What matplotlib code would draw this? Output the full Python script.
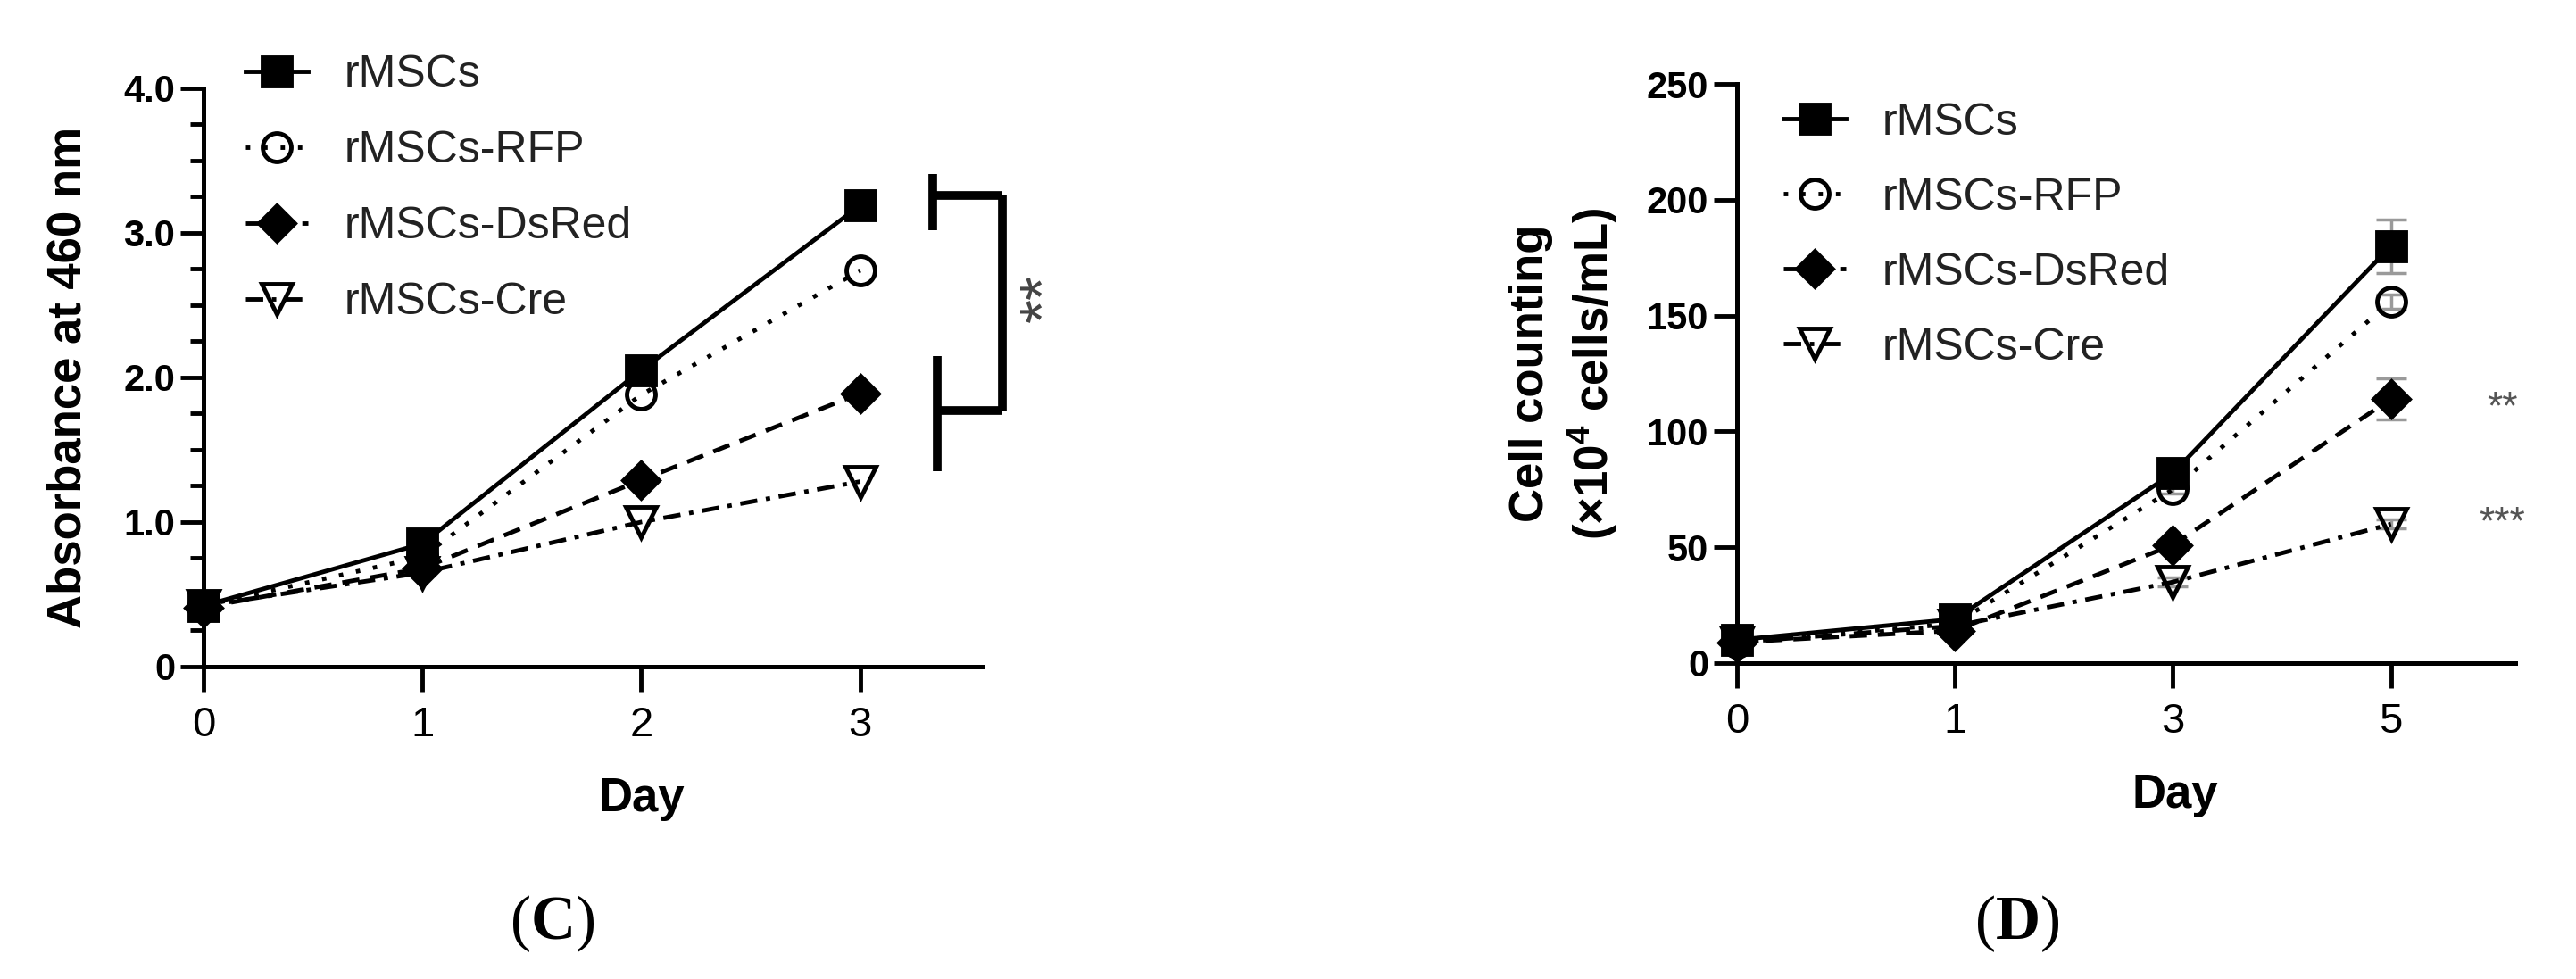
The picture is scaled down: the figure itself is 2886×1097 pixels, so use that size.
import numpy as np
import matplotlib
matplotlib.use("Agg")
import matplotlib.pyplot as plt
from matplotlib.ticker import MultipleLocator, FuncFormatter

plt.rcParams['font.family'] = ['Liberation Sans', 'DejaVu Sans']
plt.rcParams['mathtext.fontset'] = 'custom'
plt.rcParams['mathtext.rm'] = 'Liberation Serif'
plt.rcParams['mathtext.bf'] = 'Liberation Serif:bold'
plt.rcParams['mathtext.sf'] = 'Liberation Sans:bold'

groups = ["rMSCs", "rMSCs-RFP", "rMSCs-DsRed", "rMSCs-Cre"]

# panel C: absorbance at 460 nm
days_c = [0, 1, 2, 3]
abs_rmscs = [0.42, 0.85, 2.05, 3.19]
abs_rfp = [0.42, 0.76, 1.88, 2.74]
abs_dsred = [0.41, 0.68, 1.29, 1.89]
abs_cre = [0.42, 0.65, 1.00, 1.28]

# panel D: cell counting (x10^4 cells/mL)
days_d = ["0", "1", "3", "5"]
cnt_rmscs = [10, 19, 82, 180]
cnt_rfp = [9, 17, 75, 156]
cnt_dsred = [9, 14, 51, 114]
cnt_cre = [9, 16, 35, 60]
err_rmscs = [2, 2, 3, 11.5]
err_rfp = [1, 1, 2, 3]
err_dsred = [1, 1, 2, 9]
err_cre = [1, 1, 2, 2]

# significance marks
sig_c = "**"
sig_d = ["**", "***"]
sig_d_y = [110, 60]

markers = ['s', 'o', 'D', 'v']
sizes = [23, 23, 20, 24]
fills = ['black', 'none', 'black', 'none']
styles = ['-', (0, (1, 3)), (0, (4, 2.5)), (0, (4, 2, 1, 2))]

fig = plt.figure(figsize=(28.86, 10.97), dpi=100)
axC = fig.add_axes([0.0790, 0.3191, 0.3025, 0.5907])
axD = fig.add_axes([0.6743, 0.3227, 0.3021, 0.5916])


def style_axes(ax):
    for s in ['top', 'right']:
        ax.spines[s].set_visible(False)
    for s in ['left', 'bottom']:
        ax.spines[s].set_linewidth(3.6)
    ax.tick_params(axis='x', which='major', length=20, width=3.5, pad=12, labelsize=34)
    ax.tick_params(axis='y', which='major', length=19, width=3.5, pad=4, labelsize=30)
    ax.tick_params(axis='y', which='minor', length=11, width=3.5)


# ---- panel C ----
series_c = [abs_rmscs, abs_rfp, abs_dsred, abs_cre]
handles = []
for i, vals in enumerate(series_c):
    ln, = axC.plot(days_c, vals, linestyle=styles[i], marker=markers[i], ms=sizes[i],
                   color='black', mfc=fills[i], mec='black', mew=3.5, lw=3.5,
                   clip_on=False, zorder=3)
    handles.append(ln)

axC.set_xlim(0, 3.56)
axC.set_ylim(0, 4.0)
axC.set_xticks(days_c)
axC.yaxis.set_major_locator(MultipleLocator(1.0))
axC.yaxis.set_minor_locator(MultipleLocator(0.25))
axC.yaxis.set_major_formatter(FuncFormatter(lambda v, p: "0" if v == 0 else "%.1f" % v))
style_axes(axC)
for lbl in axC.get_yticklabels():
    lbl.set_fontweight('bold')

axC.set_ylabel("Absorbance at 460 nm", fontsize=38, fontweight='bold', va='center')
axC.yaxis.set_label_coords(-0.173, 0.5)
axC.set_xlabel("Day", fontsize=38, fontweight='bold', va='top')
axC.xaxis.set_label_coords(0.562, -0.19)

leg = axC.legend(handles, groups, loc='upper left', bbox_to_anchor=(0.054, 1.058),
                 frameon=False, fontsize=36, handlelength=1.4, handletextpad=0.8,
                 labelspacing=0.78, borderpad=0, borderaxespad=0)
for t in leg.get_texts():
    t.set_color('#222222')

# bracket between groups at day 3
bk = dict(color='black', lw=7, clip_on=False, solid_capstyle='butt')
axC.plot([3.33, 3.33], [3.02, 3.41], **bk)
axC.plot([3.33, 3.65], [3.26, 3.26], **bk)
axC.plot([3.65, 3.65], [1.77, 3.26], **bk)
axC.plot([3.35, 3.65], [1.77, 1.77], **bk)
axC.plot([3.35, 3.35], [1.35, 2.15], **bk)
axC.text(3.85, 2.55, sig_c, rotation=90, fontsize=50, color='#444444',
         ha='center', va='center', clip_on=False)

# ---- panel D ----
xd = np.arange(len(days_d))
series_d = [cnt_rmscs, cnt_rfp, cnt_dsred, cnt_cre]
errs_d = [err_rmscs, err_rfp, err_dsred, err_cre]
handles = []
for i, vals in enumerate(series_d):
    axD.errorbar(xd, vals, yerr=errs_d[i], fmt='none', ecolor='#9a9a9a',
                 elinewidth=2.5, capsize=12, capthick=2.5, zorder=2, clip_on=False)
    ln, = axD.plot(xd, vals, linestyle=styles[i], marker=markers[i], ms=sizes[i],
                   color='black', mfc=fills[i], mec='black', mew=3.5, lw=3.5,
                   clip_on=False, zorder=3)
    handles.append(ln)

axD.set_xlim(0, 3.57)
axD.set_ylim(0, 250)
axD.set_xticks(xd)
axD.set_xticklabels(days_d)
axD.yaxis.set_major_locator(MultipleLocator(50))
style_axes(axD)
for lbl in axD.get_yticklabels():
    lbl.set_fontweight('bold')

axD.set_ylabel("Cell counting\n(×10$^{\\mathsf{4}}$ cells/mL)", fontsize=38, fontweight='bold',
               va='center', linespacing=1.3)
axD.yaxis.set_label_coords(-0.222, 0.5)
axD.set_xlabel("Day", fontsize=38, fontweight='bold', va='top')
axD.xaxis.set_label_coords(0.563, -0.19)

leg = axD.legend(handles, groups, loc='upper left', bbox_to_anchor=(0.06, 0.968),
                 frameon=False, fontsize=36, handlelength=1.4, handletextpad=0.8,
                 labelspacing=0.76, borderpad=0, borderaxespad=0)
for t in leg.get_texts():
    t.set_color('#222222')

for s, y in zip(sig_d, sig_d_y):
    axD.text(3.51, y, s, fontsize=32, color='#555555', ha='center', va='center',
             clip_on=False)

# panel letters
fig.text(619 / 2886, 1 - 1035 / 1097, r"($\mathbf{C}$)", family='Liberation Serif',
         fontsize=50, ha='center', va='center')
fig.text(2260 / 2886, 1 - 1035 / 1097, r"($\mathbf{D}$)", family='Liberation Serif',
         fontsize=50, ha='center', va='center')

fig.savefig("out.png", dpi=100, facecolor='white')
